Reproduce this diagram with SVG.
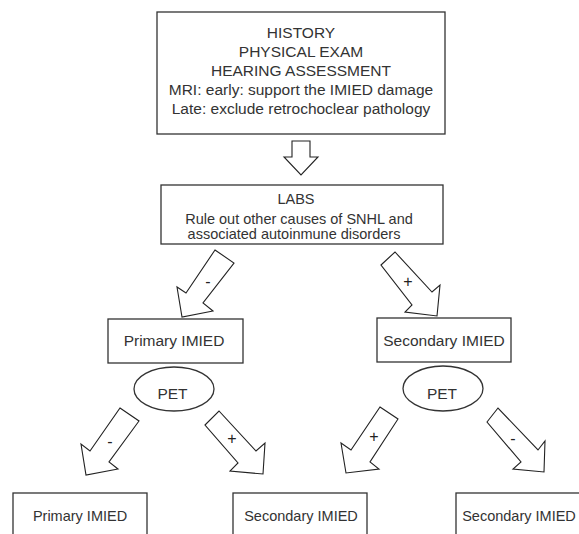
<svg xmlns="http://www.w3.org/2000/svg" width="579" height="534" viewBox="0 0 579 534">
<style>
.box{fill:#fff;stroke:#333;stroke-width:1.3}
.arr{fill:#fff;stroke:#222;stroke-width:1.1;stroke-linejoin:miter}
text{font-family:"Liberation Sans",Arial,sans-serif;fill:#333;text-anchor:middle}
.t1{font-size:15.5px}
.t2{font-size:14.5px}
.lbl{font-size:16px;fill:#222}
</style>
<rect width="579" height="534" fill="#fff"/>
<g id="history">
<rect class="box" x="157" y="12" width="288" height="122"/>
<text class="t1" x="301" y="37.5">HISTORY</text>
<text class="t1" x="301" y="57">PHYSICAL EXAM</text>
<text class="t1" x="301" y="76">HEARING ASSESSMENT</text>
<text class="t1" x="301" y="95">MRI: early: support the IMIED damage</text>
<text class="t1" x="301" y="114">Late: exclude retrochoclear pathology</text>
</g>
<g id="labs">
<rect class="box" x="161" y="185" width="282" height="59"/>
<text class="t2" x="296" y="204">LABS</text>
<text class="t2" x="299" y="223.5">Rule out other causes of SNHL and</text>
<text class="t2" x="294" y="238.5">associated autoinmune disorders</text>
</g>
<g id="primary">
<rect class="box" x="108" y="319" width="135" height="44"/>
<text class="t1" x="174" y="346">Primary IMIED</text>
</g>
<g id="secondary">
<rect class="box" x="377" y="318" width="134" height="44"/>
<text class="t1" x="444" y="346">Secondary IMIED</text>
</g>
<g id="pet-left">
<ellipse class="box" cx="174" cy="389" rx="40" ry="22" stroke-width="1"/>
<text class="t1" x="172.5" y="399">PET</text>
</g>
<g id="pet-right">
<ellipse class="box" cx="443" cy="388.5" rx="40" ry="22.5" stroke-width="1"/>
<text class="t1" x="442" y="399">PET</text>
</g>
<g id="bottom-primary">
<rect class="box" x="13" y="493" width="134" height="60"/>
<text class="t2" x="80" y="521">Primary IMIED</text>
</g>
<g id="bottom-secondary-mid">
<rect class="box" x="233" y="493" width="134" height="60"/>
<text class="t2" x="301" y="521">Secondary IMIED</text>
</g>
<g id="bottom-secondary-right">
<rect class="box" x="456" y="493" width="140" height="60"/>
<text class="t2" x="519" y="521">Secondary IMIED</text>
</g>
<g id="connectors">
<polygon class="arr" points="292,141 310,141 310,157 318,157 301,175 284,157 292,157"/>
<polygon class="arr" points="215,250 234,263 203,303 213,311 182,317 177,287 186,293"/>
<text class="lbl" x="208" y="287">-</text>
<polygon class="arr" points="381,265 395,252 432,292 440,285 437,316 405,312 412,305"/>
<text class="lbl" x="408" y="287">+</text>
<polygon class="arr" points="120,408 139,421 109,462 118,469 86,475 81,444 90,451"/>
<text class="lbl" x="110" y="447">-</text>
<polygon class="arr" points="205,425 219,411 256,451 265,443 263,474 230,471 238,463"/>
<text class="lbl" x="232" y="444">+</text>
<polygon class="arr" points="380,407 398,419 370,462 379,469 346,473 341,443 351,450"/>
<text class="lbl" x="374" y="442">+</text>
<polygon class="arr" points="487,422 498,408 538,450 545,441 544,472 513,469 521,462"/>
<text class="lbl" x="513" y="444">-</text>
</g>
</svg>
